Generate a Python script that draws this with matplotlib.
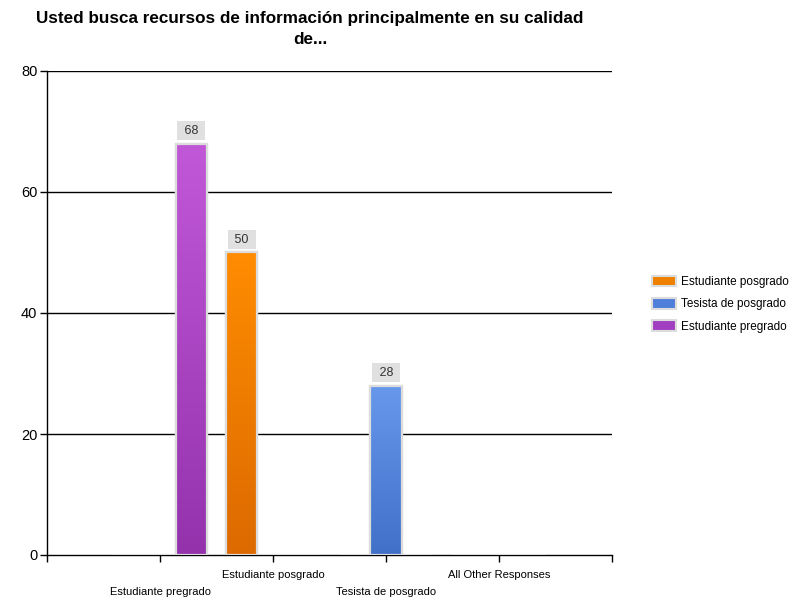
import numpy as np
import matplotlib.pyplot as plt
from matplotlib.colors import LinearSegmentedColormap
from matplotlib.patches import Patch

plt.rcParams['font.family'] = ['Liberation Sans', 'DejaVu Sans']

CATEGORIES = ['Estudiante pregrado', 'Estudiante posgrado', 'Tesista de posgrado', 'All Other Responses']
SERIES = ['Estudiante posgrado', 'Tesista de posgrado', 'Estudiante pregrado']
POSGRADO = [0, 50, 0, 0]
TESISTA = [0, 0, 28, 0]
PREGRADO = [68, 0, 0, 0]
Y_TICKS = [0, 20, 40, 60, 80]

VALUES = [POSGRADO, TESISTA, PREGRADO]
# (top colour, bottom colour, legend colour)
COLORS = [('#ff8c00', '#dc6a00', '#f08000'),
          ('#6898ec', '#4070c8', '#4f7fda'),
          ('#c158d8', '#9432ac', '#a040c0')]

fig = plt.figure(figsize=(7.99, 6.0), dpi=100)
ax = fig.add_axes([47 / 799, 45 / 600, 565 / 799, 484 / 600])

x = np.arange(1, len(CATEGORIES) + 1)
width = 0.277
grad = np.linspace(0, 1, 256).reshape(-1, 1)

for i, (vals, (top, bot, _)) in enumerate(zip(VALUES, COLORS)):
    xs = x + (i - 1) * width
    ax.bar(xs, vals, width, color=bot, edgecolor='#dcdcdc', linewidth=1.6, zorder=3)
    cmap = LinearSegmentedColormap.from_list('g%d' % i, [bot, top])
    for xi, v in zip(xs, vals):
        if v <= 0:
            continue
        ax.imshow(grad, extent=[xi - width / 2, xi + width / 2, 0, v], aspect='auto',
                  cmap=cmap, zorder=3.5, origin='lower')
        ax.bar(xi, v, width, color='none', edgecolor='#dcdcdc', linewidth=1.6, zorder=4)
        ax.annotate(' %d ' % v, (xi, v), xytext=(0, 5), textcoords='offset points',
                    ha='center', va='bottom', fontsize=9, color='#333333',
                    bbox=dict(boxstyle='square,pad=0.28', facecolor='#e0e0e0', edgecolor='none'),
                    zorder=5)

ax.set_xlim(0, 5)
ax.set_ylim(0, 80)
ax.set_yticks(Y_TICKS)
ax.set_yticklabels([str(t) for t in Y_TICKS], fontsize=10.5)
for t in Y_TICKS[1:]:
    ax.axhline(t, color='black', linewidth=1, zorder=2)

ax.set_xticks(np.arange(0, 6))
labels = [''] + [('\n' + c) if k % 2 == 0 else c for k, c in enumerate(CATEGORIES)] + ['']
ax.set_xticklabels(labels, fontsize=8, linespacing=1.9)
ax.tick_params(axis='both', direction='out', length=5, color='black', width=1)
ax.tick_params(axis='x', pad=6)
ax.tick_params(axis='y', pad=2)

for s in ['top', 'right']:
    ax.spines[s].set_visible(False)
ax.spines['left'].set_linewidth(1)
ax.spines['bottom'].set_linewidth(1)
ax.spines['bottom'].set_zorder(2)

fig.text(310 / 799, 1 - 11 / 600, 'Usted busca recursos de información principalmente en su calidad\nde...',
         ha='center', va='top', fontsize=12.3, fontweight='bold', linespacing=1.5)

handles = [Patch(facecolor=c[2], edgecolor='#dcdcdc', linewidth=1.5) for c in COLORS]
fig.legend(handles, SERIES, loc='upper left', bbox_to_anchor=(641 / 799, 1 - 265 / 600),
           frameon=False, fontsize=8.5, handlelength=2.1, handleheight=1.0,
           labelspacing=0.85, handletextpad=0.35)

fig.savefig('out.png', dpi=100)
